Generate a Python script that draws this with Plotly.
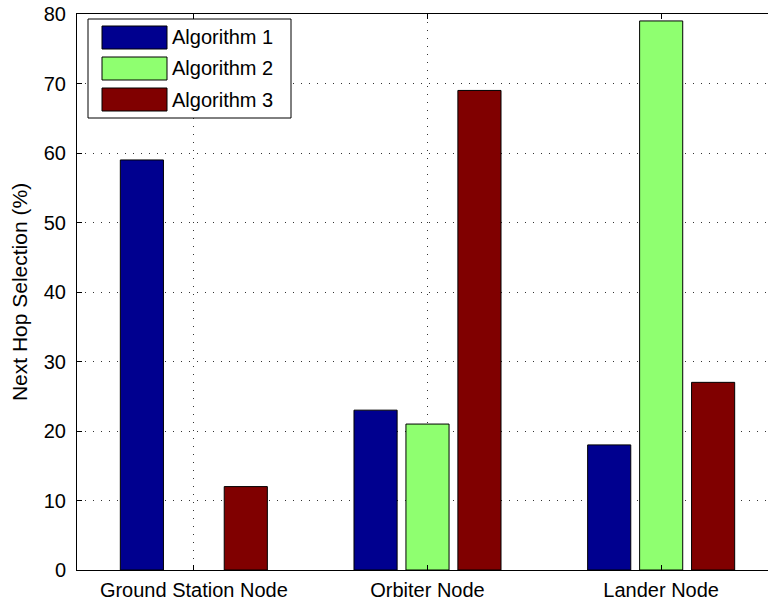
import plotly.graph_objects as go

categories = ["Ground Station Node", "Orbiter Node", "Lander Node"]
series_names = ["Algorithm 1", "Algorithm 2", "Algorithm 3"]
alg1 = [59, 23, 18]
alg2 = [0, 21, 79]
alg3 = [12, 69, 27]
colors = ["#00008F", "#8FFF70", "#800000"]
y_ticks = [0, 10, 20, 30, 40, 50, 60, 70, 80]

FONT = "Liberation Sans, Arial, sans-serif"
xpos = [1, 2, 3]

fig = go.Figure()
for name, vals, col in zip(series_names, [alg1, alg2, alg3], colors):
    fig.add_trace(go.Bar(
        x=xpos, y=vals, name=name,
        marker=dict(color=col,
                    line=dict(color="black", width=[0 if v == 0 else 1 for v in vals])),
        showlegend=False,
    ))

# manual MATLAB-style legend (paper coords, plot area 77..778 x 14..570;
# the figure is slightly wider than the window, as in the cropped original)
FIG_W = 778
W, H, L, T = FIG_W - 77.0, 556.0, 77.0, 14.0
def px(x):
    return (x - L) / W
def py(y):
    return (570.0 - y) / H

fig.add_shape(type="rect", xref="paper", yref="paper",
              x0=px(88), x1=px(291), y0=py(118), y1=py(19),
              line=dict(color="black", width=1), fillcolor="white", layer="above")
rows = [(26, 49), (57, 80), (88, 111)]
for (t, b), name, col in zip(rows, series_names, colors):
    fig.add_shape(type="rect", xref="paper", yref="paper",
                  x0=px(102), x1=px(167), y0=py(b), y1=py(t),
                  line=dict(color="black", width=1), fillcolor=col, layer="above")
    fig.add_annotation(xref="paper", yref="paper", x=px(170), y=py((t + b) / 2),
                       text=name, showarrow=False, xanchor="left", yanchor="middle",
                       font=dict(family=FONT, size=20, color="black"))

fig.update_layout(
    width=FIG_W, height=601,
    margin=dict(l=77, r=0, t=14, b=31, autoexpand=False),
    paper_bgcolor="white", plot_bgcolor="white",
    barmode="group", bargap=0.333, bargroupgap=0.17,
    font=dict(family=FONT, size=20, color="black"),
)
fig.update_xaxes(
    range=[0.5, 3.5], tickmode="array", tickvals=xpos, ticktext=categories,
    showline=True, linecolor="black", linewidth=1, mirror="ticks",
    ticks="inside", ticklen=5, tickcolor="black",
    showgrid=True, gridcolor="#333333", gridwidth=1, griddash="1px,7px",
    zeroline=False, tickfont=dict(size=20), ticklabelstandoff=2,
)
fig.update_yaxes(
    range=[0, 80], tickmode="array", tickvals=y_ticks,
    showline=True, linecolor="black", linewidth=1, mirror="ticks",
    ticks="inside", ticklen=5, tickcolor="black",
    showgrid=True, gridcolor="#333333", gridwidth=1, griddash="1px,7px",
    zeroline=False, tickfont=dict(size=20), ticklabelstandoff=6,
    title=dict(text="Next Hop Selection (%)", font=dict(size=21), standoff=10),
)

fig.write_html("out.html", config={"displayModeBar": False},
               post_script="document.body.style.margin='0px';document.body.style.overflow='hidden';")
